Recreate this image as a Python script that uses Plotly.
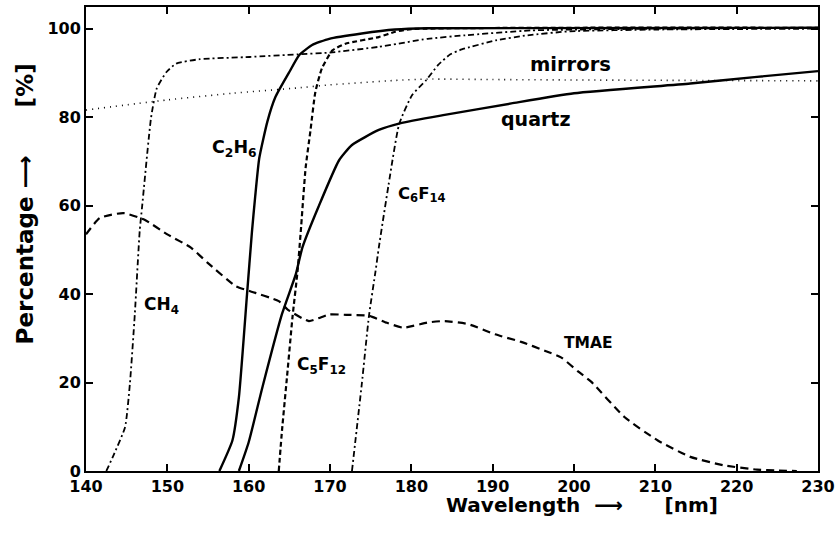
import plotly.graph_objects as go

# ---- data ----
ch4_x = [142.5, 143.3, 144.8, 145.4, 146.0, 146.6, 146.9, 148.0, 148.7, 149.9, 151.1, 154.0, 160.1, 166.0, 170.0, 176.0, 182.0, 186.6, 194.7, 210.0, 230.0]
ch4_y = [0, 3.2, 9.9, 19.8, 35.4, 54.2, 59.8, 79.9, 86.5, 90.2, 92.1, 93.1, 93.6, 94.2, 94.6, 95.9, 97.7, 98.5, 99.6, 100.0, 100.2]

c2h6_x = [156.4, 158.0, 158.8, 159.8, 160.4, 160.8, 161.3, 162.3, 163.3, 165.0, 166.2, 167.8, 169.9, 173.9, 178.0, 182.0, 230.0]
c2h6_y = [0, 6.9, 16.7, 40.0, 54.0, 62.0, 70.7, 79.0, 84.6, 90.2, 94.0, 96.3, 97.7, 98.9, 99.8, 100.1, 100.2]

quartz_x = [158.8, 160.0, 161.7, 164.1, 165.8, 166.6, 168.6, 171.1, 172.7, 176.0, 178.6, 184.1, 192.3, 200.0, 214.3, 222.5, 230.0]
quartz_y = [0, 6.5, 19.0, 35.5, 44.5, 50.5, 59.8, 70.2, 73.7, 77.1, 78.6, 80.5, 83.1, 85.4, 87.6, 89.1, 90.4]

c5f12_x = [163.7, 164.1, 164.7, 165.4, 166.0, 166.4, 167.0, 167.6, 168.2, 169.0, 170.3, 171.9, 176.0, 178.0, 180.0, 230.0]
c5f12_y = [0, 9.2, 21.0, 35.0, 45.0, 54.0, 68.5, 77.0, 85.7, 91.0, 95.1, 96.6, 98.1, 99.3, 99.9, 100.2]

c6f14_x = [172.7, 173.9, 174.8, 175.6, 176.0, 177.2, 178.5, 180.1, 181.8, 183.3, 184.8, 186.2, 190.5, 194.3, 199.5, 210.0, 230.0]
c6f14_y = [0, 19.5, 35.2, 45.2, 50.5, 64.7, 78.4, 85.0, 88.3, 91.8, 94.2, 95.3, 97.4, 98.5, 99.4, 99.8, 100.0]

mirrors_x = [140, 150, 158, 166, 170, 178, 182, 190, 200, 215, 230]
mirrors_y = [81.6, 83.9, 85.4, 86.6, 87.3, 88.3, 88.6, 88.5, 88.4, 88.3, 88.2]

tmae_x = [140, 141.7, 144.6, 147.2, 150, 152.9, 155, 158.4, 160.1, 163.7, 164.8, 167.4, 169.9, 172, 174.8, 177, 179, 182.1, 184.1, 187, 190.3, 193.5, 196.4, 198.4, 200.5, 202.1, 206.2, 210.3, 214.3, 218.4, 222.5, 225, 227.4]
tmae_y = [53.5, 57.2, 58.3, 56.8, 53.5, 50.5, 47.0, 41.8, 40.7, 38.4, 36.5, 33.9, 35.4, 35.3, 35.1, 33.5, 32.4, 33.6, 33.9, 33.2, 30.9, 29.2, 27.2, 25.7, 22.5, 20.2, 12.2, 6.9, 3.2, 1.3, 0.3, 0.1, 0]

x_ticks = [140, 150, 160, 170, 180, 190, 200, 210, 220, 230]
y_ticks = [0, 20, 40, 60, 80, 100]

# (text, x, y, font size)
labels = [
    ("mirrors", 199.6, 91.8, 19.5),
    ("quartz", 195.3, 79.6, 19),
    ("C<sub>2</sub>H<sub>6</sub>", 158.2, 72.8, 17.5),
    ("C<sub>6</sub>F<sub>14</sub>", 181.3, 62.6, 16.5),
    ("CH<sub>4</sub>", 149.3, 37.5, 17),
    ("C<sub>5</sub>F<sub>12</sub>", 168.9, 23.8, 17),
    ("TMAE", 201.8, 29.0, 15.5),
]

FONT = "DejaVu Sans"
DASHDOT = "6px,3px,2px,3px"
NB = "\u00a0"

fig = go.Figure()

def add(x, y, dash, width):
    fig.add_trace(go.Scatter(x=x, y=y, mode="lines",
                             line=dict(color="black", width=width, dash=dash,
                                       shape="spline", smoothing=0.5),
                             showlegend=False, hoverinfo="skip"))

add(mirrors_x, mirrors_y, "1px,5px", 1.6)
add(tmae_x, tmae_y, "8px,5px", 2.2)
add(ch4_x, ch4_y, DASHDOT, 1.8)
add(c2h6_x, c2h6_y, "solid", 2.4)
add(quartz_x, quartz_y, "solid", 2.4)
add(c5f12_x, c5f12_y, "5px,3px", 2.2)
add(c6f14_x, c6f14_y, DASHDOT, 1.8)

for txt, lx, ly, fs in labels:
    fig.add_annotation(x=lx, y=ly, text=txt, showarrow=False,
                       font=dict(family=FONT, size=fs, color="black", weight="bold"),
                       xanchor="center", yanchor="middle")

fig.add_annotation(x=(584 - 86) / 735, y=-0.043, xref="paper", yref="paper",
                   text="Wavelength" + NB * 2 + "\u27f6" + NB * 6 + "[nm]",
                   showarrow=False, xanchor="center", yanchor="top",
                   font=dict(family=FONT, size=20, color="black", weight="bold"))
fig.add_annotation(x=-0.083, y=(471 - 203) / 466, xref="paper", yref="paper",
                   text="Percentage" + NB + "\u27f6" + NB * 6 + "[%]",
                   showarrow=False, textangle=-90, xanchor="center", yanchor="middle",
                   font=dict(family=FONT, size=23, color="black", weight="bold"))

axis_common = dict(showgrid=False, zeroline=False, showline=True, linecolor="black",
                   linewidth=2, mirror="ticks", ticks="inside", ticklen=7,
                   tickwidth=2, tickcolor="black",
                   tickfont=dict(family=FONT, size=16, color="black", weight="bold"))

fig.update_xaxes(range=[140, 230], tickvals=x_ticks, ticktext=[str(v) for v in x_ticks],
                 **axis_common)
fig.update_yaxes(range=[0, 104.9], tickvals=y_ticks, ticktext=[str(v) for v in y_ticks],
                 **axis_common)

fig.update_layout(width=840, height=533, plot_bgcolor="white", paper_bgcolor="white",
                  margin=dict(l=86, r=19, t=5, b=62))

fig.write_html("out.html")
